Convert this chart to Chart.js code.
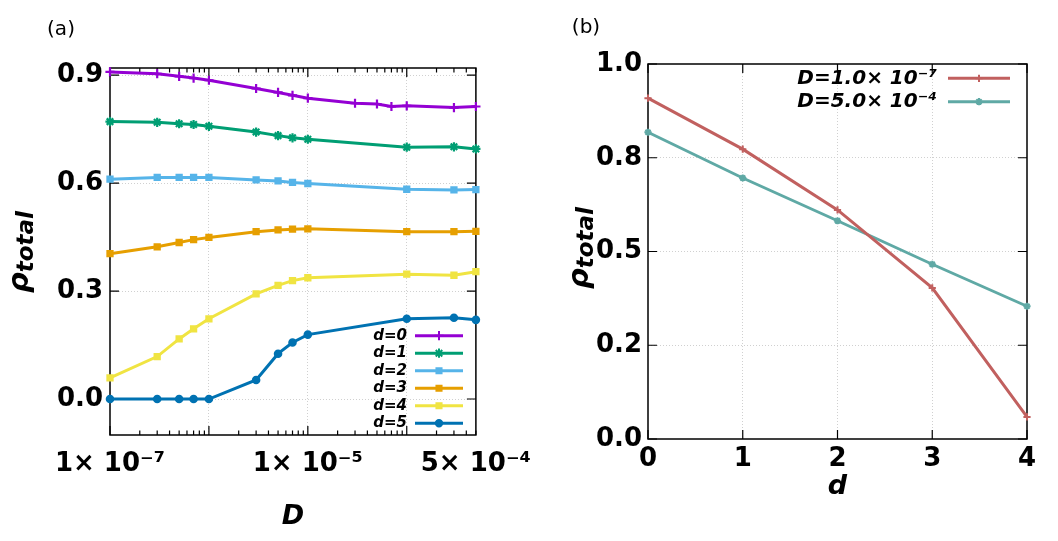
<!DOCTYPE html>
<html>
<head>
<meta charset="utf-8">
<script src="https://cdn.jsdelivr.net/npm/chart.js@4.4.1/dist/chart.umd.min.js"></script>
<style>
  html, body { margin: 0; padding: 0; background: #fff; }
  #wrap { position: relative; width: 1058px; height: 541px; }
  .panel { position: absolute; top: 0; }
</style>
</head>
<body>
<div id="wrap">
  <canvas id="chartA" class="panel" width="545" height="541" style="left:0"></canvas>
  <canvas id="chartB" class="panel" width="528" height="541" style="left:530px"></canvas>
</div>
<script>
// ---- panel (a): rho_total vs D for each d ----
const diffusionAll = [1e-7, 3e-7, 5e-7, 7e-7, 1e-6, 3e-6, 5e-6, 7e-6, 1e-5, 3e-5, 5e-5, 7e-5, 1e-4, 3e-4, 5e-4];
const diffusion = [1e-7, 3e-7, 5e-7, 7e-7, 1e-6, 3e-6, 5e-6, 7e-6, 1e-5, 1e-4, 3e-4, 5e-4];
const rhoD0 = [0.909, 0.904, 0.897, 0.892, 0.886, 0.863, 0.852, 0.844, 0.836, 0.822, 0.820, 0.813, 0.815, 0.810, 0.813];
const rhoD1 = [0.771, 0.769, 0.765, 0.763, 0.758, 0.742, 0.732, 0.726, 0.722, 0.700, 0.701, 0.695];
const rhoD2 = [0.611, 0.616, 0.616, 0.616, 0.616, 0.609, 0.606, 0.602, 0.599, 0.583, 0.581, 0.582];
const rhoD3 = [0.404, 0.423, 0.435, 0.443, 0.449, 0.465, 0.470, 0.472, 0.473, 0.465, 0.465, 0.466];
const rhoD4 = [0.059, 0.118, 0.167, 0.195, 0.223, 0.292, 0.316, 0.329, 0.337, 0.347, 0.344, 0.354];
const rhoD5 = [0.000, 0.000, 0.000, 0.000, 0.000, 0.053, 0.126, 0.157, 0.179, 0.223, 0.226, 0.220];
const seriesLabels = ['d=0', 'd=1', 'd=2', 'd=3', 'd=4', 'd=5'];
const seriesColors = ['#9400d3', '#009e73', '#56b4e9', '#e69f00', '#f0e442', '#0072b2'];
const seriesMarkers = ['cross', 'star', 'rect', 'rect', 'rect', 'circle'];
const xTickValuesA = [1e-7, 1e-5, 5e-4];
const xTickTextA = ['1× 10⁻⁷', '1× 10⁻⁵', '5× 10⁻⁴'];
const yTickValuesA = [0, 0.3, 0.6, 0.9];

// ---- panel (b): rho_total vs d for two D ----
const distance = [0, 1, 2, 3, 4];
const rhoLowD = [0.909, 0.773, 0.611, 0.403, 0.059];
const rhoHighD = [0.818, 0.696, 0.582, 0.466, 0.354];
const labelsB = ['D=1.0× 10⁻⁷', 'D=5.0× 10⁻⁴'];
const colorsB = ['#c1605f', '#5fa9a5'];
const markersB = ['cross', 'star'];
const yTickValuesB = [0, 0.25, 0.5, 0.75, 1.0];
const yTickTextB = ['0.0', '0.2', '0.5', '0.8', '1.0'];

Chart.defaults.font.family = '"DejaVu Sans", sans-serif';
Chart.defaults.color = '#000';

function toPoints(xs, ys) {
    return ys.map((y, i) => ({ x: xs[i], y: y }));
}

function isDecade(v) {
    const l = Math.log10(v);
    return Math.abs(l - Math.round(l)) < 1e-6;
}

// log ticks: 1..9 x 10^k between 1e-7 and 5e-4
const logTicks = [];
for (let k = -7; k <= -4; k++) {
    for (let m = 1; m <= 9; m++) {
        const v = m * Math.pow(10, k);
        if (v <= 5.0001e-4) logTicks.push(v);
    }
}

// frame, inward ticks, legend, axis title and panel letter
function makeDecor(cfg) {
    return {
        id: 'decor' + cfg.letter,
        beforeDatasetsDraw(chart) {
            const ctx = chart.ctx;
            const a = chart.chartArea;
            ctx.save();
            ctx.strokeStyle = '#000';
            ctx.lineWidth = 1.2;
            const xs = chart.scales.x, ys = chart.scales.y;
            xs.ticks.forEach(t => {
                const px = xs.getPixelForValue(t.value);
                const len = cfg.isMajorX(t.value) ? 9 : 4.5;
                ctx.beginPath();
                ctx.moveTo(px, a.bottom); ctx.lineTo(px, a.bottom - len);
                ctx.moveTo(px, a.top); ctx.lineTo(px, a.top + len);
                ctx.stroke();
            });
            ys.ticks.forEach(t => {
                const py = ys.getPixelForValue(t.value);
                ctx.beginPath();
                ctx.moveTo(a.left, py); ctx.lineTo(a.left + 9, py);
                ctx.moveTo(a.right, py); ctx.lineTo(a.right - 9, py);
                ctx.stroke();
            });
            ctx.lineWidth = 1.5;
            ctx.strokeRect(a.left, a.top, a.right - a.left, a.bottom - a.top);
            ctx.restore();
        },
        afterDraw(chart) {
            const ctx = chart.ctx;
            ctx.save();
            // legend: text then line sample
            chart.data.datasets.forEach((ds, i) => {
                const y = cfg.legendY + i * cfg.legendStep;
                ctx.font = 'bold italic ' + cfg.legendSize + 'px "DejaVu Sans"';
                ctx.fillStyle = '#000';
                ctx.textAlign = 'right';
                ctx.textBaseline = 'middle';
                ctx.fillText(ds.label, cfg.legendTextX, y);
                ctx.strokeStyle = ds.borderColor;
                ctx.lineWidth = ds.borderWidth;
                ctx.beginPath();
                ctx.moveTo(cfg.legendLine[0], y);
                ctx.lineTo(cfg.legendLine[1], y);
                ctx.stroke();
                ctx.fillStyle = ds.borderColor;
                ctx.lineWidth = 2;
                Chart.helpers.drawPoint(ctx, {
                    pointStyle: ds.pointStyle, radius: ds.pointRadius, borderWidth: 2, rotation: 0
                }, (cfg.legendLine[0] + cfg.legendLine[1]) / 2, y);
            });
            // y axis title: rho with subscript
            ctx.translate(cfg.titleX, cfg.titleY);
            ctx.rotate(-Math.PI / 2);
            ctx.fillStyle = '#000';
            ctx.textAlign = 'left';
            ctx.textBaseline = 'alphabetic';
            ctx.font = 'bold italic 29px "DejaVu Sans"';
            ctx.fillText('ρ', 0, 0);
            const w = ctx.measureText('ρ').width;
            ctx.font = 'bold italic 23px "DejaVu Sans"';
            ctx.fillText('total', w, 5);
            ctx.setTransform(1, 0, 0, 1, 0, 0);
            ctx.restore();
            ctx.save();
            ctx.font = '20px "DejaVu Sans"';
            ctx.fillStyle = '#000';
            ctx.textAlign = 'center';
            ctx.textBaseline = 'middle';
            ctx.fillText('(' + cfg.letter + ')', cfg.letterX, cfg.letterY);
            ctx.restore();
        }
    };
}

const datasetsA = [rhoD0, rhoD1, rhoD2, rhoD3, rhoD4, rhoD5].map((vals, i) => ({
    label: seriesLabels[i],
    data: toPoints(i === 0 ? diffusionAll : diffusion, vals),
    borderColor: seriesColors[i],
    backgroundColor: seriesColors[i],
    borderWidth: 3,
    pointStyle: seriesMarkers[i],
    pointRadius: seriesMarkers[i] === 'circle' ? 3.2 : (seriesMarkers[i] === 'rect' ? 3.6 : 4.6),
    pointBorderWidth: 2.2,
    tension: 0,
    clip: false
}));

new Chart(document.getElementById('chartA'), {
    type: 'line',
    data: { datasets: datasetsA },
    options: {
        responsive: false,
        animation: false,
        layout: { padding: { top: 68, right: 68, bottom: 0, left: 0 } },
        plugins: { legend: { display: false }, tooltip: { enabled: false } },
        scales: {
            x: {
                type: 'logarithmic',
                min: 1e-7,
                max: 5e-4,
                afterBuildTicks: scale => { scale.ticks = logTicks.map(v => ({ value: v })); },
                afterFit: scale => { scale.height = 106; },
                grid: {
                    drawTicks: false,
                    lineWidth: 1,
                    color: c => (c.tick && isDecade(c.tick.value) && c.tick.value > 1.01e-7) ? '#d0d0d0' : 'rgba(0,0,0,0)'
                },
                border: { display: false, dash: [1, 2] },
                ticks: {
                    autoSkip: false,
                    maxRotation: 0,
                    minRotation: 0,
                    padding: 14,
                    font: { size: 26, weight: 'bold' },
                    callback: v => {
                        const idx = xTickValuesA.findIndex(t => Math.abs(Math.log10(t) - Math.log10(v)) < 1e-6);
                        return idx >= 0 ? xTickTextA[idx] : '';
                    }
                },
                title: {
                    display: true,
                    text: 'D',
                    font: { size: 27, weight: 'bold', style: 'italic' },
                    padding: { top: 0, bottom: 8 }
                }
            },
            y: {
                min: -0.1,
                max: 0.92,
                afterBuildTicks: scale => { scale.ticks = yTickValuesA.map(v => ({ value: v })); },
                afterFit: scale => { scale.width = 110; },
                grid: { drawTicks: false, lineWidth: 1, color: '#d0d0d0' },
                border: { display: false, dash: [1, 2] },
                ticks: {
                    padding: 7,
                    font: { size: 26, weight: 'bold' },
                    callback: v => v.toFixed(1)
                }
            }
        }
    },
    plugins: [makeDecor({
        letter: 'a', letterX: 61, letterY: 30,
        titleX: 28, titleY: 293,
        isMajorX: isDecade,
        legendY: 335.7, legendStep: 17.5, legendSize: 15,
        legendTextX: 407, legendLine: [415, 463]
    })]
});

const datasetsB = [rhoLowD, rhoHighD].map((vals, i) => ({
    label: labelsB[i],
    data: toPoints(distance, vals),
    borderColor: colorsB[i],
    backgroundColor: colorsB[i],
    borderWidth: 3,
    pointStyle: markersB[i],
    pointRadius: 3.6,
    pointBorderWidth: 2,
    tension: 0,
    clip: false
}));

new Chart(document.getElementById('chartB'), {
    type: 'line',
    data: { datasets: datasetsB },
    options: {
        responsive: false,
        animation: false,
        layout: { padding: { top: 64, right: 31, bottom: 0, left: 0 } },
        plugins: { legend: { display: false }, tooltip: { enabled: false } },
        scales: {
            x: {
                type: 'linear',
                min: 0,
                max: 4,
                afterBuildTicks: scale => { scale.ticks = distance.map(v => ({ value: v })); },
                afterFit: scale => { scale.height = 102; },
                grid: {
                    drawTicks: false,
                    lineWidth: 1,
                    color: c => (c.tick && c.tick.value > 0 && c.tick.value < 4) ? '#d0d0d0' : 'rgba(0,0,0,0)'
                },
                border: { display: false, dash: [1, 2] },
                ticks: {
                    maxRotation: 0,
                    padding: 5,
                    font: { size: 26, weight: 'bold' },
                    callback: v => String(v)
                },
                title: {
                    display: true,
                    text: 'd',
                    font: { size: 27, weight: 'bold', style: 'italic' },
                    padding: { top: 0, bottom: 38 }
                }
            },
            y: {
                min: 0,
                max: 1,
                afterBuildTicks: scale => { scale.ticks = yTickValuesB.map(v => ({ value: v })); },
                afterFit: scale => { scale.width = 118; },
                grid: {
                    drawTicks: false,
                    lineWidth: 1,
                    color: c => (c.tick && c.tick.value > 0 && c.tick.value < 1) ? '#d0d0d0' : 'rgba(0,0,0,0)'
                },
                border: { display: false, dash: [1, 2] },
                ticks: {
                    padding: 6,
                    font: { size: 26, weight: 'bold' },
                    callback: v => yTickTextB[yTickValuesB.indexOf(v)]
                }
            }
        }
    },
    plugins: [makeDecor({
        letter: 'b', letterX: 56, letterY: 28,
        titleX: 58, titleY: 289,
        isMajorX: () => true,
        legendY: 78.3, legendStep: 23.4, legendSize: 20,
        legendTextX: 407, legendLine: [418, 480]
    })]
});
</script>
</body>
</html>
